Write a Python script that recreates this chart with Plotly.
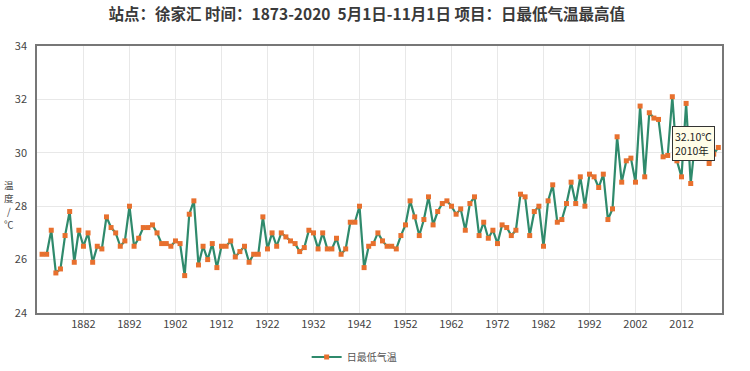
import plotly.graph_objects as go

years = list(range(1873, 2021))
tmin_max = [
    26.2, 26.2, 27.1, 25.5, 25.65, 26.9, 27.8, 25.9, 27.1, 26.5,   # 1873-1882
    27.0, 25.9, 26.5, 26.4, 27.6, 27.2, 27.0, 26.5, 26.7, 28.0,    # 1883-1892
    26.5, 26.8, 27.2, 27.2, 27.3, 27.0, 26.6, 26.6, 26.5, 26.7,    # 1893-1902
    26.6, 25.4, 27.7, 28.2, 25.8, 26.5, 26.0, 26.6, 25.7, 26.5,    # 1903-1912
    26.5, 26.7, 26.1, 26.3, 26.5, 25.9, 26.2, 26.2, 27.6, 26.4,    # 1913-1922
    27.0, 26.5, 27.0, 26.85, 26.7, 26.6, 26.3, 26.45, 27.1, 27.0,  # 1923-1932
    26.4, 27.0, 26.4, 26.4, 26.8, 26.2, 26.4, 27.4, 27.4, 28.0,    # 1933-1942
    25.7, 26.5, 26.6, 27.0, 26.7, 26.5, 26.5, 26.4, 26.9, 27.3,    # 1943-1952
    28.2, 27.6, 26.9, 27.5, 28.35, 27.3, 27.8, 28.1, 28.2, 28.0,   # 1953-1962
    27.7, 27.9, 27.1, 28.1, 28.35, 26.9, 27.4, 26.8, 27.1, 26.6,   # 1963-1972
    27.3, 27.2, 26.9, 27.1, 28.45, 28.35, 26.9, 27.8, 28.0, 26.5,  # 1973-1982
    28.2, 28.8, 27.4, 27.5, 28.1, 28.9, 28.1, 29.1, 28.0, 29.2,    # 1983-1992
    29.1, 28.7, 29.2, 27.5, 27.9, 30.6, 28.9, 29.7, 29.8, 28.9,    # 1993-2002
    31.75, 29.1, 31.5, 31.3, 31.25, 29.85, 29.9, 32.1, 29.7, 29.1, # 2003-2012
    31.85, 28.85, 30.5, 30.9, 30.4, 29.6, 29.95, 30.2,             # 2013-2020
]
assert len(years) == len(tmin_max)

series_name = "日最低气温"
title_text = "站点：徐家汇 时间：1873-2020  5月1日-11月1日 项目：日最低气温最高值"
y_title_chars = ["温", "度", "/", "℃"]
x_ticks = list(range(1882, 2021, 10))
y_ticks = [24, 26, 28, 30, 32, 34]

cjk = "Noto Sans CJK SC, Noto Sans, sans-serif"

fig = go.Figure()
fig.add_trace(go.Scatter(
    x=years, y=tmin_max, mode="lines+markers", name=series_name,
    line=dict(color="#2f8a6c", width=2.2),
    marker=dict(symbol="square", size=5, color="#e8702e"),
    showlegend=True,
))

imax = max(range(len(tmin_max)), key=lambda i: tmin_max[i])
fig.add_annotation(
    x=years[imax], y=tmin_max[imax] - 1.1, xref="x", yref="y",
    xanchor="left", yanchor="top", showarrow=False, align="left",
    text=f"{tmin_max[imax]:.2f}℃<br>{years[imax]}年",
    font=dict(family=cjk, size=10.5, color="#222"),
    bgcolor="#fffde8", bordercolor="#333", borderwidth=1, borderpad=2,
)

# stacked vertical axis title, one character per line
for k, ch in enumerate(y_title_chars):
    fig.add_annotation(
        x=9, y=185 + 13 * k, xref="paper", yref="paper", showarrow=False,
        text=ch, font=dict(family=cjk, size=9.5, color="#444"),
        xanchor="center", yanchor="middle", borderpad=0,
    )
# convert pixel positions above to paper coordinates of the plot area
pl, pr, pt, pb = 37, 28, 46, 58
pw, ph = 750 - pl - pr, 371 - pt - pb
for a in fig.layout.annotations[1:]:
    a.x = (a.x - pl) / pw
    a.y = (371 - pb - a.y) / ph

fig.update_layout(
    width=750, height=371,
    margin=dict(l=pl, r=pr, t=pt, b=pb),
    paper_bgcolor="white", plot_bgcolor="white",
    title=dict(text=f"<b>{title_text}</b>", x=0.489, xanchor="center", y=0.96, yanchor="middle",
               font=dict(family=cjk, size=15.5, color="#3a3a3a")),
    font=dict(family=cjk, size=11, color="#444"),
    legend=dict(orientation="h", x=0.463, xanchor="center", y=14 / 371, yref="container",
                yanchor="middle", font=dict(family=cjk, size=10, color="#555")),
    xaxis=dict(range=[1871.9, 2020.8], tickvals=x_ticks, showgrid=True, gridcolor="#e8e8e8",
               showline=True, linecolor="#777", linewidth=1.5, mirror=True, ticks="",
               zeroline=False, tickfont=dict(size=11, color="#444")),
    yaxis=dict(range=[24, 34], tickvals=y_ticks, showgrid=True, gridcolor="#e8e8e8",
               showline=True, linecolor="#777", linewidth=1.5, mirror=True, ticks="",
               zeroline=False, tickfont=dict(size=11, color="#444"), ticklabelstandoff=6),
)

fig.write_html("out.html", config={"displayModeBar": False},
               post_script="document.body.style.margin='0';")
